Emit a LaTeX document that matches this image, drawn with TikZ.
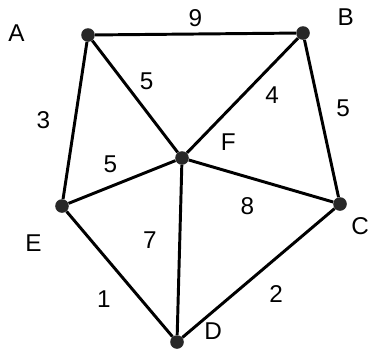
\documentclass[tikz,border=0pt]{standalone}
\usepackage{fontspec}
\setmainfont{Liberation Sans}
\usepackage{xcolor}
\usepackage{tikz}
\usetikzlibrary{positioning}
\definecolor{ink}{RGB}{40, 40, 40}

\begin{document}
\begin{tikzpicture}[every node/.style={align=center, font=\LARGE},
  vertex/.style={circle, fill=ink, inner sep=0pt, minimum size=0.34cm},
  vlabel/.style={font=\LARGE, inner sep=0pt},
  wlabel/.style={font=\LARGE, inner sep=1pt},
  edge/.style={line width=2.1pt, draw=black}]
\useasboundingbox (0,0) rectangle (9.325,-8.85);

% Vertices
\node[vertex, label={[vlabel, label distance=1.4cm]178:A}] (A) at (2.2,-0.875) {};
\node[vertex, label={[vlabel, label distance=0.7cm]12:B}] (B) at (7.575,-0.825) {};
\node[vertex, label={[vlabel, label distance=0.8cm]10:F}] (F) at (4.55,-3.95) {};
\node[vertex, label={[vlabel, label distance=0.7cm]235:E}] (E) at (1.55,-5.15) {};
\node[vertex, label={[vlabel, label distance=0.25cm]-50:C}] (C) at (8.5,-5.1) {};
\node[vertex, label={[vlabel, label distance=0.5cm]5:D}] (D) at (4.425,-8.55) {};

% Edges
\draw[edge] (A) -- node[wlabel, above=0.1cm] {9} (B);
\draw[edge] (A) -- node[wlabel, above right=0.1cm and 0.05cm] {5} (F);
\draw[edge] (B) -- node[wlabel, right=0.5cm] {4} (F);
\draw[edge] (B) -- node[wlabel, right=0.3cm, yshift=0.25cm] {5} (C);
\draw[edge] (A) -- node[wlabel, left=0.55cm] {3} (E);
\draw[edge] (E) -- node[wlabel, above left=0.15cm and 0.05cm] {5} (F);
\draw[edge] (F) -- node[wlabel, below left=0.35cm and 0.1cm] {8} (C);
\draw[edge] (F) -- node[wlabel, left=0.5cm, yshift=0.25cm] {7} (D);
\draw[edge] (E) -- node[wlabel, below left=0.35cm and 0.15cm] {1} (D);
\draw[edge] (D) -- node[wlabel, below right=0.25cm and 0.2cm] {2} (C);
\end{tikzpicture}
\end{document}
